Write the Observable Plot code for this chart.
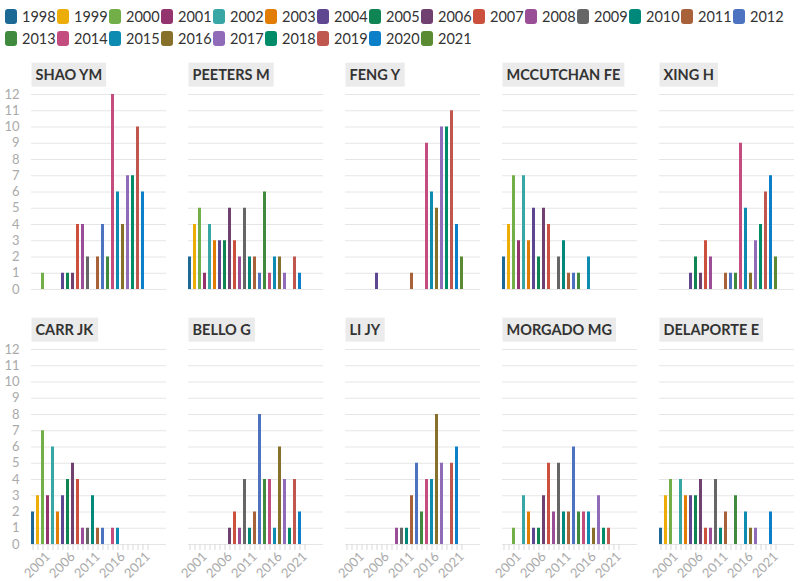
<!DOCTYPE html>
<html>
<head>
<meta charset="utf-8">
<script src="https://cdn.jsdelivr.net/npm/d3@7"></script>
<script src="https://cdn.jsdelivr.net/npm/@observablehq/plot@0.6"></script>
<style>
html, body { margin: 0; padding: 0; background: #fff; }
body { width: 800px; height: 581px; overflow: hidden; font-family: Lato, "Noto Sans", sans-serif; }
#legend { height: 50px; box-sizing: border-box; padding: 6px 0 0 5px; display: flex; flex-wrap: wrap; align-content: flex-start; }
#legend .item { display: flex; align-items: center; width: 52px; height: 21.5px; font-size: 14.5px; color: #333; white-space: nowrap; }
#legend .sw { width: 12px; height: 15px; border-radius: 3px; margin-right: 5px; flex: none; }
#chart svg { display: block; }
</style>
</head>
<body>
<div id="legend"></div>
<div id="chart"></div>
<script>
const years = d3.range(1998, 2022);
const yearColors = [
  "#1D6996", "#EDAD08", "#73AF48", "#94346E", "#38A6A5", "#E17C05",
  "#5F4690", "#0F8554", "#6F4070", "#CC503E", "#994E95", "#666666",
  "#00897B", "#A9613A", "#4C72C0", "#3F8A3F", "#C34D7F", "#0D8BB0",
  "#86702A", "#8F6BB8", "#008C69", "#C0574F", "#0B7FC7", "#5A8A32"
];
const authors = ["SHAO YM", "PEETERS M", "FENG Y", "MCCUTCHAN FE", "XING H",
                 "CARR JK", "BELLO G", "LI JY", "MORGADO MG", "DELAPORTE E"];
// publications per year 1998..2021
const shaoYM      = [0,0,1,0,0,0,1,1,1,4,4,2,0,2,4,2,12,6,4,7,7,10,6,0];
const peetersM    = [2,4,5,1,4,3,3,3,5,3,2,5,2,2,1,6,1,2,2,1,0,2,1,0];
const fengY       = [0,0,0,0,0,0,1,0,0,0,0,0,0,1,0,0,9,6,5,10,10,11,4,2];
const mccutchanFE = [2,4,7,3,7,3,5,2,5,4,0,2,3,1,1,1,0,2,0,0,0,0,0,0];
const xingH       = [0,0,0,0,0,0,1,2,1,3,2,0,0,1,1,1,9,5,1,3,4,6,7,2];
const carrJK      = [2,3,7,3,6,2,3,4,5,4,1,1,3,1,1,0,1,1,0,0,0,0,0,0];
const belloG      = [0,0,0,0,0,0,0,0,1,2,1,4,1,2,8,4,4,1,6,4,1,4,2,0];
const liJY        = [0,0,0,0,0,0,0,0,0,0,1,1,1,3,5,2,4,4,8,5,0,5,6,0];
const morgadoMG   = [0,0,1,0,3,2,1,1,3,5,2,5,2,2,6,2,2,2,1,3,1,1,0,0];
const delaporteE  = [1,3,4,0,4,3,3,3,4,1,1,4,1,2,0,3,0,2,1,1,0,0,2,0];
const xTickLabels = [2001, 2006, 2011, 2016, 2021];

const series = [shaoYM, peetersM, fengY, mccutchanFE, xingH, carrJK, belloG, liJY, morgadoMG, delaporteE];
const rows = [];
series.forEach((vals, i) => {
  vals.forEach((v, j) => {
    if (v > 0) rows.push({author: authors[i], col: i % 5, row: Math.floor(i / 5), year: years[j], count: v});
  });
});
const titles = authors.map((a, i) => ({author: a, col: i % 5, row: Math.floor(i / 5)}));

const chart = Plot.plot({
  width: 800,
  height: 531,
  marginLeft: 29,
  marginRight: 3,
  marginTop: 44,
  marginBottom: 37,
  style: {fontFamily: "Lato, 'Noto Sans', sans-serif", background: "#fff", overflow: "visible"},
  fx: {domain: [0, 1, 2, 3, 4], paddingInner: 0.139, paddingOuter: 0, axis: null},
  fy: {domain: [0, 1], paddingInner: 0.2353, paddingOuter: 0, axis: null},
  x: {type: "band", domain: years, paddingInner: 0.32, paddingOuter: 0.5, align: 0, label: null},
  y: {domain: [0, 12], label: null},
  color: {type: "ordinal", domain: years, range: yearColors},
  marks: [
    Plot.gridY({ticks: 12, stroke: "#e6e6e6", strokeOpacity: 1}),
    Plot.axisY({ticks: 12, tickSize: 0, tickPadding: 12, fill: "#aaa", fontSize: 13, label: null}),
    Plot.axisX({
      tickSize: 6, tickPadding: 4, tickRotate: -45,
      tickFormat: d => xTickLabels.includes(d) ? String(d) : "",
      stroke: "#d9d9d9", fill: "#aaa", fontSize: 13, label: null
    }),
    Plot.barY(rows, {fx: "col", fy: "row", x: "year", y: "count", fill: "year"}),
    Plot.text(titles, {
      fx: "col", fy: "row", text: "author",
      frameAnchor: "top-left", textAnchor: "start", lineAnchor: "middle",
      dx: 4, dy: -19, fontWeight: "bold", fontSize: 14.5, fill: "#333"
    })
  ]
});

document.getElementById("chart").append(chart);

// grey label boxes behind facet titles
chart.querySelectorAll("text").forEach(t => {
  if (!authors.includes(t.textContent)) return;
  const b = t.getBBox();
  const cy = b.y + b.height / 2;
  const r = document.createElementNS("http://www.w3.org/2000/svg", "rect");
  r.setAttribute("x", b.x - 4);
  r.setAttribute("y", cy - 12);
  r.setAttribute("width", b.width + 8);
  r.setAttribute("height", 24);
  r.setAttribute("fill", "#ebebeb");
  r.setAttribute("stroke", "none");
  const tr = t.getAttribute("transform");
  if (tr) r.setAttribute("transform", tr);
  t.parentNode.insertBefore(r, t);
});

// legend from the chart's color scale
const cs = chart.scale("color");
const legend = document.getElementById("legend");
cs.domain.forEach((y, i) => {
  const item = document.createElement("div");
  item.className = "item";
  const sw = document.createElement("span");
  sw.className = "sw";
  sw.style.background = cs.range[i];
  item.append(sw, document.createTextNode(String(y)));
  legend.append(item);
});
</script>
</body>
</html>
